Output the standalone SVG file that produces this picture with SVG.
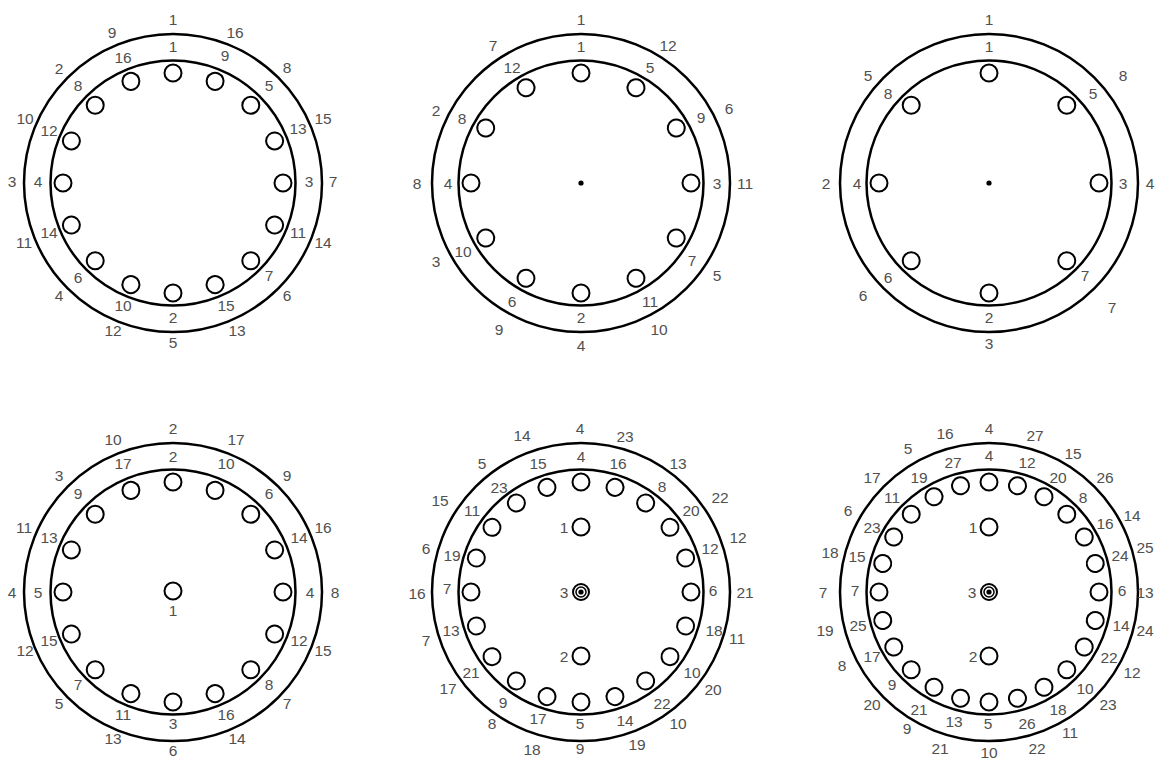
<svg xmlns="http://www.w3.org/2000/svg" xmlns:xlink="http://www.w3.org/1999/xlink" width="1156" height="760" viewBox="0 0 1156 760">
<style>
.ring{fill:none;stroke:#000;stroke-width:2.5}
.h{fill:none;stroke:#000;stroke-width:2}
text{font-family:"Liberation Sans",Arial,sans-serif;font-size:15.5px;fill:#505050;text-anchor:middle}
</style>
<defs>
<circle id="hole" class="h" cx="0" cy="-110" r="8.5"/>
<g id="rings"><circle class="ring" r="149"/><circle class="ring" r="122.5"/></g>
<g id="dbl"><circle class="h" r="8"/><circle fill="none" stroke="#000" stroke-width="1.5" r="5"/><circle fill="#000" r="2.6"/></g>
</defs>
<rect width="1156" height="760" fill="#fff"/>

<g id="wheel1">
<g transform="translate(173,183)">
<use xlink:href="#rings"/>
<use xlink:href="#hole"/><use xlink:href="#hole" transform="rotate(22.5)"/><use xlink:href="#hole" transform="rotate(45)"/><use xlink:href="#hole" transform="rotate(67.5)"/><use xlink:href="#hole" transform="rotate(90)"/><use xlink:href="#hole" transform="rotate(112.5)"/><use xlink:href="#hole" transform="rotate(135)"/><use xlink:href="#hole" transform="rotate(157.5)"/><use xlink:href="#hole" transform="rotate(180)"/><use xlink:href="#hole" transform="rotate(202.5)"/><use xlink:href="#hole" transform="rotate(225)"/><use xlink:href="#hole" transform="rotate(247.5)"/><use xlink:href="#hole" transform="rotate(270)"/><use xlink:href="#hole" transform="rotate(292.5)"/><use xlink:href="#hole" transform="rotate(315)"/><use xlink:href="#hole" transform="rotate(337.5)"/>
</g>
<text x="173" y="51.5">1</text><text x="225" y="60.5">9</text><text x="269" y="90.5">5</text><text x="298" y="133.5">13</text><text x="309" y="186.5">3</text><text x="298" y="237.5">11</text><text x="269" y="280.5">7</text><text x="226" y="310.5">15</text><text x="173" y="322.5">2</text><text x="123" y="310.5">10</text><text x="78" y="282.5">6</text><text x="49" y="237.5">14</text><text x="38" y="186.5">4</text><text x="49" y="135.5">12</text><text x="78" y="90.5">8</text><text x="123" y="62.5">16</text>
<text x="173" y="24.5">1</text><text x="235" y="37.5">16</text><text x="287" y="72.5">8</text><text x="323" y="123.5">15</text><text x="333" y="186.5">7</text><text x="323" y="247.5">14</text><text x="287" y="300.5">6</text><text x="237" y="335.5">13</text><text x="173" y="347.5">5</text><text x="113" y="335.5">12</text><text x="59" y="300.5">4</text><text x="24" y="247.5">11</text><text x="12" y="186.5">3</text><text x="25" y="123.5">10</text><text x="59" y="73.5">2</text><text x="112" y="37.5">9</text>
</g>

<g id="wheel2">
<g transform="translate(581,183)">
<use xlink:href="#rings"/>
<circle r="2.6" fill="#000"/>
<use xlink:href="#hole"/><use xlink:href="#hole" transform="rotate(30)"/><use xlink:href="#hole" transform="rotate(60)"/><use xlink:href="#hole" transform="rotate(90)"/><use xlink:href="#hole" transform="rotate(120)"/><use xlink:href="#hole" transform="rotate(150)"/><use xlink:href="#hole" transform="rotate(180)"/><use xlink:href="#hole" transform="rotate(210)"/><use xlink:href="#hole" transform="rotate(240)"/><use xlink:href="#hole" transform="rotate(270)"/><use xlink:href="#hole" transform="rotate(300)"/><use xlink:href="#hole" transform="rotate(330)"/>
</g>
<text x="581" y="51.5">1</text><text x="650" y="72.5">5</text><text x="701" y="122.5">9</text><text x="717" y="188.5">3</text><text x="692" y="265.5">7</text><text x="650" y="306.5">11</text><text x="581" y="322.5">2</text><text x="512" y="306.5">6</text><text x="463" y="256.5">10</text><text x="448" y="188.5">4</text><text x="462" y="123.5">8</text><text x="512" y="72.5">12</text>
<text x="581" y="24.5">1</text><text x="668" y="50.5">12</text><text x="729" y="113.5">6</text><text x="745" y="188.5">11</text><text x="717" y="280.5">5</text><text x="659" y="334.5">10</text><text x="581" y="350.5">4</text><text x="499" y="334.5">9</text><text x="436" y="266.5">3</text><text x="417" y="188.5">8</text><text x="436" y="115.5">2</text><text x="493" y="50.5">7</text>
</g>

<g id="wheel3">
<g transform="translate(989,183)">
<use xlink:href="#rings"/>
<circle r="2.6" fill="#000"/>
<use xlink:href="#hole"/><use xlink:href="#hole" transform="rotate(45)"/><use xlink:href="#hole" transform="rotate(90)"/><use xlink:href="#hole" transform="rotate(135)"/><use xlink:href="#hole" transform="rotate(180)"/><use xlink:href="#hole" transform="rotate(225)"/><use xlink:href="#hole" transform="rotate(270)"/><use xlink:href="#hole" transform="rotate(315)"/>
</g>
<text x="989" y="51.5">1</text><text x="1093" y="98.5">5</text><text x="1123" y="188.5">3</text><text x="1085" y="280.5">7</text><text x="989" y="322.5">2</text><text x="888" y="282.5">6</text><text x="857" y="188.5">4</text><text x="888" y="98.5">8</text>
<text x="989" y="24.5">1</text><text x="1123" y="80.5">8</text><text x="1150" y="188.5">4</text><text x="1112" y="312.5">7</text><text x="989" y="348.5">3</text><text x="863" y="300.5">6</text><text x="826" y="188.5">2</text><text x="868" y="80.5">5</text>
</g>

<g id="wheel4">
<g transform="translate(173,592)">
<use xlink:href="#rings"/>
<circle class="h" cy="-1" r="8.5"/>
<use xlink:href="#hole"/><use xlink:href="#hole" transform="rotate(22.5)"/><use xlink:href="#hole" transform="rotate(45)"/><use xlink:href="#hole" transform="rotate(67.5)"/><use xlink:href="#hole" transform="rotate(90)"/><use xlink:href="#hole" transform="rotate(112.5)"/><use xlink:href="#hole" transform="rotate(135)"/><use xlink:href="#hole" transform="rotate(157.5)"/><use xlink:href="#hole" transform="rotate(180)"/><use xlink:href="#hole" transform="rotate(202.5)"/><use xlink:href="#hole" transform="rotate(225)"/><use xlink:href="#hole" transform="rotate(247.5)"/><use xlink:href="#hole" transform="rotate(270)"/><use xlink:href="#hole" transform="rotate(292.5)"/><use xlink:href="#hole" transform="rotate(315)"/><use xlink:href="#hole" transform="rotate(337.5)"/>
</g>
<text x="173" y="615.5">1</text>
<text x="173" y="461.5">2</text><text x="226" y="468.5">10</text><text x="269" y="498.5">6</text><text x="299" y="542.5">14</text><text x="310" y="597.5">4</text><text x="299" y="645.5">12</text><text x="269" y="689.5">8</text><text x="226" y="719.5">16</text><text x="173" y="728.5">3</text><text x="123" y="719.5">11</text><text x="78" y="689.5">7</text><text x="49" y="645.5">15</text><text x="38" y="597.5">5</text><text x="49" y="542.5">13</text><text x="78" y="498.5">9</text><text x="123" y="468.5">17</text>
<text x="173" y="433.5">2</text><text x="236" y="444.5">17</text><text x="287" y="480.5">9</text><text x="323" y="532.5">16</text><text x="335" y="597.5">8</text><text x="323" y="655.5">15</text><text x="287" y="708.5">7</text><text x="237" y="743.5">14</text><text x="173" y="755.5">6</text><text x="113" y="743.5">13</text><text x="59" y="708.5">5</text><text x="25" y="655.5">12</text><text x="12" y="597.5">4</text><text x="24" y="532.5">11</text><text x="59" y="480.5">3</text><text x="113" y="444.5">10</text>
</g>

<g id="wheel5">
<g transform="translate(581,592)">
<use xlink:href="#rings"/>
<circle class="h" cy="-65" r="8.5"/><circle class="h" cy="64" r="8.5"/><use xlink:href="#dbl"/>
<use xlink:href="#hole"/><use xlink:href="#hole" transform="rotate(18)"/><use xlink:href="#hole" transform="rotate(36)"/><use xlink:href="#hole" transform="rotate(54)"/><use xlink:href="#hole" transform="rotate(72)"/><use xlink:href="#hole" transform="rotate(90)"/><use xlink:href="#hole" transform="rotate(108)"/><use xlink:href="#hole" transform="rotate(126)"/><use xlink:href="#hole" transform="rotate(144)"/><use xlink:href="#hole" transform="rotate(162)"/><use xlink:href="#hole" transform="rotate(180)"/><use xlink:href="#hole" transform="rotate(198)"/><use xlink:href="#hole" transform="rotate(216)"/><use xlink:href="#hole" transform="rotate(234)"/><use xlink:href="#hole" transform="rotate(252)"/><use xlink:href="#hole" transform="rotate(270)"/><use xlink:href="#hole" transform="rotate(288)"/><use xlink:href="#hole" transform="rotate(306)"/><use xlink:href="#hole" transform="rotate(324)"/><use xlink:href="#hole" transform="rotate(342)"/>
</g>
<text x="564" y="532.5">1</text><text x="564" y="597.5">3</text><text x="564" y="661.5">2</text>
<text x="581" y="461.5">4</text><text x="618" y="468.5">16</text><text x="662" y="491.5">8</text><text x="691" y="515.5">20</text><text x="710" y="553.5">12</text><text x="713" y="595.5">6</text><text x="714" y="635.5">18</text><text x="692" y="677.5">10</text><text x="662" y="708.5">22</text><text x="625" y="725.5">14</text><text x="580" y="728.5">5</text><text x="538" y="723.5">17</text><text x="503" y="707.5">9</text><text x="471" y="677.5">21</text><text x="451" y="635.5">13</text><text x="447" y="593.5">7</text><text x="452" y="560.5">19</text><text x="472" y="515.5">11</text><text x="499" y="492.5">23</text><text x="538" y="468.5">15</text>
<text x="580" y="433.5">4</text><text x="625" y="441.5">23</text><text x="678" y="468.5">13</text><text x="720" y="502.5">22</text><text x="738" y="542.5">12</text><text x="745" y="597.5">21</text><text x="737" y="643.5">11</text><text x="713" y="694.5">20</text><text x="678" y="728.5">10</text><text x="637" y="749.5">19</text><text x="580" y="753.5">9</text><text x="532" y="754.5">18</text><text x="492" y="728.5">8</text><text x="448" y="693.5">17</text><text x="426" y="645.5">7</text><text x="417" y="598.5">16</text><text x="426" y="553.5">6</text><text x="440" y="505.5">15</text><text x="482" y="468.5">5</text><text x="522" y="440.5">14</text>
</g>

<g id="wheel6">
<g transform="translate(989,592)">
<use xlink:href="#rings"/>
<circle class="h" cy="-65" r="8.5"/><circle class="h" cy="64" r="8.5"/><use xlink:href="#dbl"/>
<use xlink:href="#hole"/><use xlink:href="#hole" transform="rotate(15)"/><use xlink:href="#hole" transform="rotate(30)"/><use xlink:href="#hole" transform="rotate(45)"/><use xlink:href="#hole" transform="rotate(60)"/><use xlink:href="#hole" transform="rotate(75)"/><use xlink:href="#hole" transform="rotate(90)"/><use xlink:href="#hole" transform="rotate(105)"/><use xlink:href="#hole" transform="rotate(120)"/><use xlink:href="#hole" transform="rotate(135)"/><use xlink:href="#hole" transform="rotate(150)"/><use xlink:href="#hole" transform="rotate(165)"/><use xlink:href="#hole" transform="rotate(180)"/><use xlink:href="#hole" transform="rotate(195)"/><use xlink:href="#hole" transform="rotate(210)"/><use xlink:href="#hole" transform="rotate(225)"/><use xlink:href="#hole" transform="rotate(240)"/><use xlink:href="#hole" transform="rotate(255)"/><use xlink:href="#hole" transform="rotate(270)"/><use xlink:href="#hole" transform="rotate(285)"/><use xlink:href="#hole" transform="rotate(300)"/><use xlink:href="#hole" transform="rotate(315)"/><use xlink:href="#hole" transform="rotate(330)"/><use xlink:href="#hole" transform="rotate(345)"/>
</g>
<text x="973" y="532.5">1</text><text x="972" y="597.5">3</text><text x="973" y="661.5">2</text>
<text x="989" y="460.5">4</text><text x="1027" y="467.5">12</text><text x="1058" y="482.5">20</text><text x="1083" y="502.5">8</text><text x="1105" y="528.5">16</text><text x="1120" y="560.5">24</text><text x="1122" y="595.5">6</text><text x="1121" y="630.5">14</text><text x="1109" y="662.5">22</text><text x="1085" y="693.5">10</text><text x="1058" y="714.5">18</text><text x="1027" y="728.5">26</text><text x="988" y="728.5">5</text><text x="954" y="726.5">13</text><text x="919" y="714.5">21</text><text x="892" y="689.5">9</text><text x="872" y="661.5">17</text><text x="858" y="630.5">25</text><text x="855" y="595.5">7</text><text x="857" y="561.5">15</text><text x="872" y="532.5">23</text><text x="892" y="502.5">11</text><text x="919" y="482.5">19</text><text x="953" y="467.5">27</text>
<text x="989" y="433.5">4</text><text x="1035" y="440.5">27</text><text x="1073" y="458.5">15</text><text x="1105" y="482.5">26</text><text x="1132" y="520.5">14</text><text x="1145" y="552.5">25</text><text x="1145" y="597.5">13</text><text x="1145" y="635.5">24</text><text x="1132" y="677.5">12</text><text x="1108" y="709.5">23</text><text x="1070" y="737.5">11</text><text x="1037" y="753.5">22</text><text x="989" y="758">10</text><text x="940" y="753.5">21</text><text x="907" y="733.5">9</text><text x="872" y="709.5">20</text><text x="842" y="670.5">8</text><text x="825" y="635.5">19</text><text x="823" y="597.5">7</text><text x="830" y="557.5">18</text><text x="848" y="515.5">6</text><text x="872" y="482.5">17</text><text x="908" y="453.5">5</text><text x="945" y="438.5">16</text>
</g>
</svg>
